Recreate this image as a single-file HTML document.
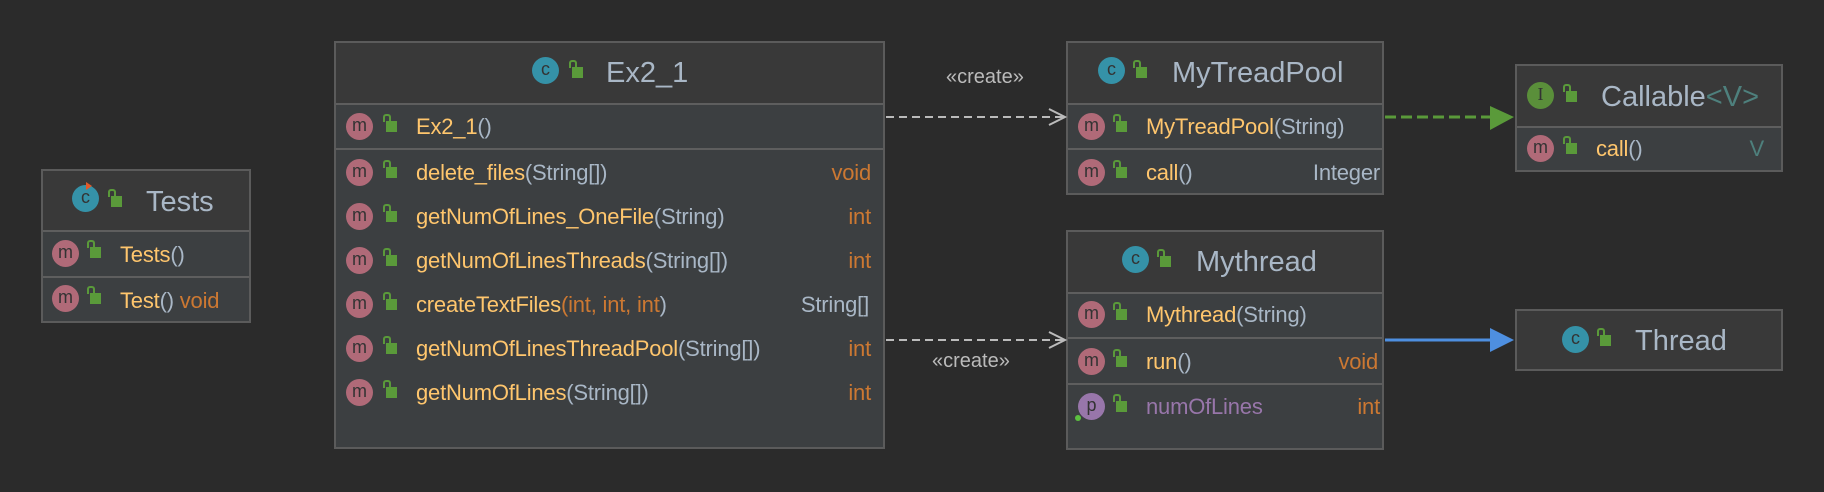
<!DOCTYPE html>
<html><head><meta charset="utf-8"><style>
body{margin:0;width:1824px;height:492px;background:#2b2b2b;overflow:hidden;position:relative;font-family:"Liberation Sans",sans-serif}
.box{position:absolute;background:#3c3f41;border:2px solid #5b5b5b;box-sizing:border-box}
.hd{position:absolute;left:0;right:0;top:0;background:#393939;border-bottom:2px solid #5e5e5e;box-sizing:border-box}
.sep{position:absolute;left:0;right:0;height:2px;background:#5e5e5e}
.t{position:absolute;white-space:nowrap;font-size:22px;line-height:24px;letter-spacing:-0.2px}
.title{position:absolute;white-space:nowrap;font-size:29px;line-height:30px;color:#a9b7c6}
.ic{position:absolute;width:27px;height:27px;border-radius:50%;color:#333;font-size:18px;line-height:25px;text-align:center}
.m{background:#b06a78}
.c{background:#3592a8}
.i{background:#5a8f3a;font-family:"Liberation Serif",serif}
.p{background:#9876aa}
.lk{position:absolute;width:11px;height:11px;background:#5a9a3a}
.lk:before{content:"";position:absolute;left:-3px;top:-7px;width:4px;height:6px;border:2px solid #5a9a3a;border-bottom:none;border-radius:3px 3px 0 0}
.y{color:#ffc66d}.g{color:#a9b7c6}.o{color:#cc7832}.pu{color:#9876aa}
.lab{position:absolute;font-size:20px;color:#bbbbbb;white-space:nowrap}
</style></head><body>

<!-- Tests -->
<div class="box" style="left:41px;top:169px;width:210px;height:154px">
 <div class="hd" style="height:61px"></div>
 <div class="sep" style="top:105px"></div>
</div>
<div class="ic c" style="left:72px;top:185px">c</div>
<div style="position:absolute;left:86px;top:182px;width:0;height:0;border-left:6px solid #e05a2a;border-top:4px solid transparent;border-bottom:4px solid transparent"></div>
<div class="lk" style="left:111px;top:196px"></div>
<div class="title" style="left:146px;top:187px">Tests</div>
<div class="ic m" style="left:52px;top:240px">m</div><div class="lk" style="left:90px;top:247px"></div>
<div class="t y" style="left:120px;top:243px">Tests<span class="g">()</span></div>
<div class="ic m" style="left:52px;top:285px">m</div><div class="lk" style="left:90px;top:293px"></div>
<div class="t y" style="left:120px;top:289px">Test<span class="g">()</span> <span class="o">void</span></div>

<!-- Ex2_1 -->
<div class="box" style="left:334px;top:41px;width:551px;height:408px">
 <div class="hd" style="height:62px"></div>
 <div class="sep" style="top:105px"></div>
</div>
<div class="ic c" style="left:532px;top:57px">c</div><div class="lk" style="left:572px;top:67px"></div>
<div class="title" style="left:606px;top:58px">Ex2_1</div>

<div class="ic m" style="left:346px;top:113px">m</div><div class="lk" style="left:386px;top:121px"></div>
<div class="t y" style="left:416px;top:115px">Ex2_1<span class="g">()</span></div>

<div class="ic m" style="left:346px;top:159px">m</div><div class="lk" style="left:386px;top:167px"></div>
<div class="t y" style="left:416px;top:161px">delete_files<span class="g">(String[])</span></div><div class="t o" style="right:953px;top:161px">void</div>
<div class="ic m" style="left:346px;top:203px">m</div><div class="lk" style="left:386px;top:211px"></div>
<div class="t y" style="left:416px;top:205px">getNumOfLines_OneFile<span class="g">(String)</span></div><div class="t o" style="right:953px;top:205px">int</div>
<div class="ic m" style="left:346px;top:247px">m</div><div class="lk" style="left:386px;top:255px"></div>
<div class="t y" style="left:416px;top:249px">getNumOfLinesThreads<span class="g">(String[])</span></div><div class="t o" style="right:953px;top:249px">int</div>
<div class="ic m" style="left:346px;top:291px">m</div><div class="lk" style="left:386px;top:299px"></div>
<div class="t y" style="left:416px;top:293px">createTextFiles<span class="o">(int, int, int</span><span class="g">)</span></div><div class="t g" style="right:955px;top:293px">String[]</div>
<div class="ic m" style="left:346px;top:335px">m</div><div class="lk" style="left:386px;top:343px"></div>
<div class="t y" style="left:416px;top:337px">getNumOfLinesThreadPool<span class="g">(String[])</span></div><div class="t o" style="right:953px;top:337px">int</div>
<div class="ic m" style="left:346px;top:379px">m</div><div class="lk" style="left:386px;top:387px"></div>
<div class="t y" style="left:416px;top:381px">getNumOfLines<span class="g">(String[])</span></div><div class="t o" style="right:953px;top:381px">int</div>

<!-- MyTreadPool -->
<div class="box" style="left:1066px;top:41px;width:318px;height:154px">
 <div class="hd" style="height:62px"></div>
 <div class="sep" style="top:105px"></div>
</div>
<div class="ic c" style="left:1098px;top:57px">c</div><div class="lk" style="left:1136px;top:67px"></div>
<div class="title" style="left:1172px;top:58px">MyTreadPool</div>
<div class="ic m" style="left:1078px;top:113px">m</div><div class="lk" style="left:1116px;top:121px"></div>
<div class="t y" style="left:1146px;top:115px">MyTreadPool<span class="g">(String)</span></div>
<div class="ic m" style="left:1078px;top:159px">m</div><div class="lk" style="left:1116px;top:167px"></div>
<div class="t y" style="left:1146px;top:161px">call<span class="g">()</span></div><div class="t g" style="right:444px;top:161px">Integer</div>

<!-- Callable -->
<div class="box" style="left:1515px;top:64px;width:268px;height:108px">
 <div class="hd" style="height:62px"></div>
</div>
<div class="ic i" style="left:1527px;top:82px">I</div><div class="lk" style="left:1566px;top:91px"></div>
<div class="title" style="left:1601px;top:82px">Callable<span style="color:#4e807d">&lt;V&gt;</span></div>
<div class="ic m" style="left:1527px;top:135px">m</div><div class="lk" style="left:1566px;top:143px"></div>
<div class="t y" style="left:1596px;top:137px">call<span class="g">()</span></div><div class="t" style="right:60px;top:137px;color:#4e807d">V</div>

<!-- Mythread -->
<div class="box" style="left:1066px;top:230px;width:318px;height:220px">
 <div class="hd" style="height:62px"></div>
 <div class="sep" style="top:105px"></div>
 <div class="sep" style="top:151px"></div>
</div>
<div class="ic c" style="left:1122px;top:246px">c</div><div class="lk" style="left:1160px;top:256px"></div>
<div class="title" style="left:1196px;top:247px">Mythread</div>
<div class="ic m" style="left:1078px;top:301px">m</div><div class="lk" style="left:1116px;top:309px"></div>
<div class="t y" style="left:1146px;top:303px">Mythread<span class="g">(String)</span></div>
<div class="ic m" style="left:1078px;top:348px">m</div><div class="lk" style="left:1116px;top:356px"></div>
<div class="t y" style="left:1146px;top:350px">run<span class="g">()</span></div><div class="t o" style="right:446px;top:350px">void</div>
<div class="ic p" style="left:1078px;top:393px">p</div><div style="position:absolute;left:1075px;top:415px;width:6px;height:6px;border-radius:50%;background:#5cc040"></div><div class="lk" style="left:1116px;top:401px"></div>
<div class="t pu" style="left:1146px;top:395px">numOfLines</div><div class="t o" style="right:444px;top:395px">int</div>

<!-- Thread -->
<div class="box" style="left:1515px;top:309px;width:268px;height:62px;background:#393939"></div>
<div class="ic c" style="left:1562px;top:326px">c</div><div class="lk" style="left:1600px;top:335px"></div>
<div class="title" style="left:1635px;top:326px">Thread</div>

<!-- connectors -->
<svg style="position:absolute;left:0;top:0" width="1824" height="492">
 <g stroke="#bbbbbb" stroke-width="2" fill="none">
  <line x1="886" y1="117" x2="1064" y2="117" stroke-dasharray="8,5"/>
  <polyline points="1049,109 1065,117 1049,125"/>
  <line x1="886" y1="340" x2="1064" y2="340" stroke-dasharray="8,5"/>
  <polyline points="1049,332 1065,340 1049,348"/>
 </g>
 <line x1="1385" y1="117" x2="1492" y2="117" stroke="#5a9a3a" stroke-width="3" stroke-dasharray="11,5"/>
 <polygon points="1490,106 1514,117 1490,130" fill="#5a9a3a"/>
 <line x1="1385" y1="340" x2="1492" y2="340" stroke="#4e8fe0" stroke-width="3"/>
 <polygon points="1490,328 1514,340 1490,352" fill="#4e8fe0"/>
</svg>
<div class="lab" style="left:946px;top:66px">«create»</div>
<div class="lab" style="left:932px;top:350px">«create»</div>
</body></html>
